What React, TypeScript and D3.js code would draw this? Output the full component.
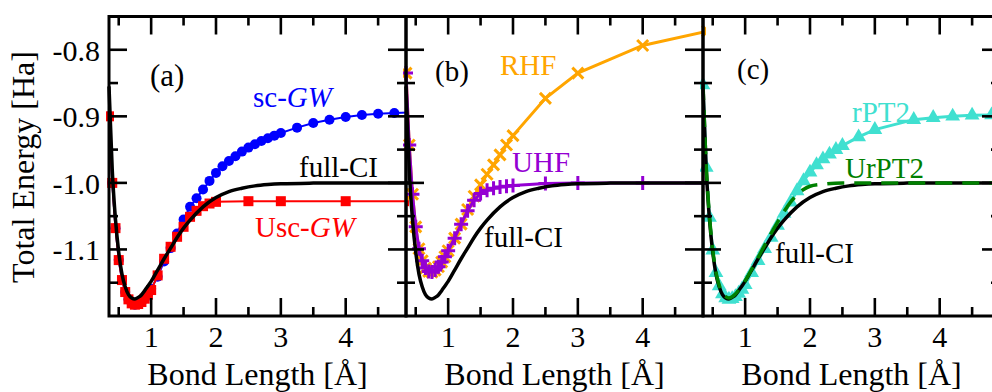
import React from "react";
import * as d3 from "d3";

// ---------------- data (bond length in Å, total energy in Ha) ----------------
const fciR = [0.35, 0.4, 0.45, 0.5, 0.55, 0.6, 0.65, 0.7, 0.75, 0.8, 0.85, 0.9, 0.95, 1.0, 1.1, 1.2, 1.3, 1.4, 1.5, 1.6, 1.8, 2.0, 2.2, 2.4, 2.6, 2.8, 3.0, 3.5, 4.0, 5.0];
const fciE = [-0.855, -0.98, -1.055, -1.104, -1.137, -1.156, -1.168, -1.173, -1.1745, -1.172, -1.1684, -1.162, -1.155, -1.148, -1.131, -1.114, -1.098, -1.082, -1.068, -1.056, -1.036, -1.022, -1.013, -1.008, -1.0045, -1.0025, -1.0013, -1.0003, -1.0, -1.0];

const scGwR = [0.35, 0.4, 0.45, 0.5, 0.55, 0.6, 0.65, 0.7, 0.75, 0.8, 0.85, 0.9, 0.95, 1.0, 1.1, 1.2, 1.3, 1.4, 1.5, 1.6, 1.7, 1.8, 1.9, 2.0, 2.1, 2.2, 2.3, 2.4, 2.5, 2.6, 2.7, 2.8, 2.9, 3.0, 3.25, 3.5, 3.75, 4.0, 4.25, 4.5, 4.75, 5.0];
const scGwE = [-0.9, -1.0, -1.068, -1.116, -1.146, -1.164, -1.175, -1.181, -1.183, -1.182, -1.179, -1.174, -1.167, -1.159, -1.141, -1.118, -1.098, -1.076, -1.055, -1.036, -1.023, -1.01, -0.997, -0.985, -0.975, -0.967, -0.96, -0.953, -0.947, -0.942, -0.937, -0.933, -0.929, -0.925, -0.917, -0.91, -0.905, -0.901, -0.898, -0.896, -0.895, -0.894];

const uscGwR = [0.35, 0.4, 0.45, 0.5, 0.55, 0.6, 0.65, 0.7, 0.75, 0.8, 0.85, 0.9, 0.95, 1.0, 1.1, 1.2, 1.3, 1.4, 1.5, 1.6, 1.7, 1.8, 1.9, 2.0, 2.5, 3.0, 4.0, 5.0];
const uscGwE = [-0.9, -1.0, -1.068, -1.116, -1.146, -1.164, -1.175, -1.181, -1.183, -1.182, -1.179, -1.174, -1.168, -1.161, -1.139, -1.114, -1.096, -1.081, -1.066, -1.051, -1.042, -1.035, -1.031, -1.0285, -1.0275, -1.0275, -1.0275, -1.0275];

const hfR = [0.35, 0.4, 0.45, 0.5, 0.55, 0.6, 0.65, 0.7, 0.75, 0.8, 0.85, 0.9, 0.95, 1.0, 1.1, 1.2, 1.3, 1.4, 1.5, 1.6, 1.7, 1.8, 1.9, 2.0, 2.5, 3.0, 4.0, 5.0];
const rhfE = [-0.835, -0.943, -1.017, -1.066, -1.099, -1.117, -1.128, -1.133, -1.134, -1.131, -1.126, -1.119, -1.111, -1.102, -1.083, -1.062, -1.04, -1.02, -1.003, -0.987, -0.973, -0.958, -0.943, -0.929, -0.873, -0.835, -0.7935, -0.772];
const uhfE = [-0.835, -0.943, -1.017, -1.066, -1.099, -1.117, -1.128, -1.133, -1.134, -1.131, -1.126, -1.119, -1.111, -1.102, -1.083, -1.062, -1.042, -1.026, -1.016, -1.011, -1.008, -1.006, -1.005, -1.004, -1.001, -1.0, -1.0, -1.0];

const rpt2R = [0.35, 0.4, 0.45, 0.5, 0.55, 0.6, 0.65, 0.7, 0.75, 0.8, 0.85, 0.9, 0.95, 1.0, 1.1, 1.2, 1.3, 1.4, 1.5, 1.6, 1.7, 1.8, 1.9, 2.0, 2.1, 2.2, 2.3, 2.4, 2.5, 2.75, 3.0, 3.6, 3.9, 4.2, 4.5, 4.8];
const rpt2E = [-0.853, -0.977, -1.052, -1.101, -1.135, -1.155, -1.167, -1.173, -1.175, -1.174, -1.171, -1.166, -1.16, -1.153, -1.135, -1.117, -1.099, -1.082, -1.064, -1.046, -1.029, -1.012, -0.997, -0.984, -0.973, -0.964, -0.957, -0.95, -0.944, -0.931, -0.92, -0.905, -0.902, -0.9, -0.8985, -0.898];

const urpt2R = [0.35, 0.4, 0.45, 0.5, 0.55, 0.6, 0.65, 0.7, 0.75, 0.8, 0.85, 0.9, 1.0, 1.1, 1.2, 1.3, 1.4, 1.5, 1.6, 1.7, 1.8, 1.9, 2.0, 2.2, 2.5, 3.0, 4.0, 5.0];
const urpt2E = [-0.85, -0.975, -1.05, -1.1, -1.134, -1.154, -1.166, -1.171, -1.173, -1.171, -1.167, -1.161, -1.147, -1.13, -1.112, -1.094, -1.076, -1.059, -1.043, -1.029, -1.018, -1.01, -1.005, -1.002, -1.0, -1.0, -1.0, -1.0];

const xMajor = [1, 2, 3, 4];
const xMinor = [0.5, 1.5, 2.5, 3.5, 4.5];
const yMajor = [-1.1, -1.0, -0.9, -0.8];
const yMinor = [-1.15, -1.05, -0.95, -0.85];
const yTickLabels = ["-1.1", "-1.0", "-0.9", "-0.8"];
const xTickLabels = ["1", "2", "3", "4"];

// ---------------- layout ----------------
const W = 992;
const H = 392;
const PANEL_LEFT = [109, 406, 703];
const PANEL_W = 297;
const PLOT_TOP = 16.5;
const PLOT_BOTTOM = 316;
const X_DOMAIN: [number, number] = [0.35, 4.93];
const Y_DOMAIN: [number, number] = [-1.2, -0.75];
const FONT = "'Liberation Serif', 'Times New Roman', Times, serif";

const BLUE = "#0000ff";
const RED = "#ff0000";
const ORANGE = "#ffa500";
const PURPLE = "#9400d3";
const TURQ = "#40e0d0";
const GREEN = "#008000";

type P = [number, number];
const zip = (r: number[], e: number[]): P[] => r.map((v, i) => [v, e[i]]);

export default function App() {
  const y = d3.scaleLinear().domain(Y_DOMAIN).range([PLOT_BOTTOM, PLOT_TOP]);
  const xs = PANEL_LEFT.map((l) => d3.scaleLinear().domain(X_DOMAIN).range([l, l + PANEL_W]));

  const fci = zip(fciR, fciE);
  const scgw = zip(scGwR, scGwE);
  const uscgw = zip(uscGwR, uscGwE);
  const rhf = zip(hfR, rhfE);
  const uhf = zip(hfR, uhfE);
  const rpt2 = zip(rpt2R, rpt2E);
  const urpt2 = zip(urpt2R, urpt2E);

  const lineOf = (x: d3.ScaleLinear<number, number>, curve: d3.CurveFactory = d3.curveLinear) =>
    d3
      .line<P>()
      .x((d) => x(d[0]))
      .y((d) => y(d[1]))
      .curve(curve);

  const tri = d3.symbol().type(d3.symbolTriangle).size(95)() as string;

  const frame = (i: number) => {
    const x = xs[i];
    const l = PANEL_LEFT[i];
    const r = l + PANEL_W;
    const els: React.ReactNode[] = [];
    const tk = (key: string, x1: number, y1: number, x2: number, y2: number) =>
      els.push(<line key={key} x1={x1} y1={y1} x2={x2} y2={y2} stroke="#000" strokeWidth={2.6} />);
    xMajor.forEach((v) => {
      tk(`xb${v}`, x(v), PLOT_BOTTOM, x(v), PLOT_BOTTOM - 18);
      tk(`xt${v}`, x(v), PLOT_TOP, x(v), PLOT_TOP + 18);
    });
    xMinor.forEach((v) => {
      tk(`xbm${v}`, x(v), PLOT_BOTTOM, x(v), PLOT_BOTTOM - 9);
      tk(`xtm${v}`, x(v), PLOT_TOP, x(v), PLOT_TOP + 9);
    });
    yMajor.forEach((v) => {
      tk(`yl${v}`, l, y(v), l + 18, y(v));
      tk(`yr${v}`, r, y(v), r - 18, y(v));
    });
    yMinor.forEach((v) => {
      tk(`ylm${v}`, l, y(v), l + 9, y(v));
      tk(`yrm${v}`, r, y(v), r - 9, y(v));
    });
    els.push(
      <rect key="frame" x={l} y={PLOT_TOP} width={PANEL_W} height={PLOT_BOTTOM - PLOT_TOP} fill="none" stroke="#000" strokeWidth={3} />
    );
    xMajor.forEach((v, j) =>
      els.push(
        <text key={`xl${v}`} x={x(v)} y={347} textAnchor="middle" fontSize={30} fontFamily={FONT}>
          {xTickLabels[j]}
        </text>
      )
    );
    els.push(
      <text key="xt" x={(l + r) / 2} y={385} textAnchor="middle" fontSize={32} fontFamily={FONT}>
        Bond Length [Å]
      </text>
    );
    return els;
  };

  const clipRect = (i: number) => (
    <clipPath id={`clip${i}`} key={`c${i}`}>
      <rect x={PANEL_LEFT[i] - 3} y={PLOT_TOP - 3} width={PANEL_W + 6} height={PLOT_BOTTOM - PLOT_TOP + 6} />
    </clipPath>
  );

  const xa = xs[0], xb = xs[1], xc = xs[2];

  return (
    <svg width={W} height={H} style={{ position: "absolute", left: 0, top: 0, background: "#fff" }}>
      <defs>{[0, 1, 2].map(clipRect)}</defs>

      {/* panel (a) */}
      <g clipPath="url(#clip0)">
        <path d={lineOf(xa)(scgw) as string} fill="none" stroke={BLUE} strokeWidth={2} />
        {scgw.map((d, k) => (
          <circle key={`b${k}`} cx={xa(d[0])} cy={y(d[1])} r={5} fill={BLUE} />
        ))}
        <path d={lineOf(xa)(uscgw) as string} fill="none" stroke={RED} strokeWidth={2} />
        {uscgw.map((d, k) => (
          <rect key={`r${k}`} x={xa(d[0]) - 5} y={y(d[1]) - 5} width={10} height={10} fill={RED} />
        ))}
        <path d={lineOf(xa, d3.curveMonotoneX)(fci) as string} fill="none" stroke="#000" strokeWidth={3.5} />
      </g>

      {/* panel (b) */}
      <g clipPath="url(#clip1)">
        <path d={lineOf(xb)(rhf) as string} fill="none" stroke={ORANGE} strokeWidth={3} />
        {rhf.map((d, k) => {
          const cx = xb(d[0]), cy = y(d[1]), s = 5.5;
          return (
            <path key={`o${k}`} d={`M${cx - s},${cy - s}L${cx + s},${cy + s}M${cx - s},${cy + s}L${cx + s},${cy - s}`} stroke={ORANGE} strokeWidth={3} />
          );
        })}
        <path d={lineOf(xb)(uhf) as string} fill="none" stroke={PURPLE} strokeWidth={3} />
        {uhf.map((d, k) => {
          const cx = xb(d[0]), cy = y(d[1]), s = 7;
          return (
            <path key={`p${k}`} d={`M${cx - s},${cy}L${cx + s},${cy}M${cx},${cy - s}L${cx},${cy + s}`} stroke={PURPLE} strokeWidth={3} />
          );
        })}
        <path d={lineOf(xb, d3.curveMonotoneX)(fci) as string} fill="none" stroke="#000" strokeWidth={3.5} />
      </g>

      {/* panel (c) */}
      <g clipPath="url(#clip2)">
        <path d={lineOf(xc)(rpt2) as string} fill="none" stroke={TURQ} strokeWidth={3} />
        {rpt2.map((d, k) => (
          <path key={`t${k}`} d={tri} transform={`translate(${xc(d[0])},${y(d[1])})`} fill={TURQ} />
        ))}
        <path d={lineOf(xc, d3.curveMonotoneX)(fci) as string} fill="none" stroke="#000" strokeWidth={3.5} />
        <path d={lineOf(xc, d3.curveMonotoneX)(urpt2) as string} fill="none" stroke={GREEN} strokeWidth={3.5} strokeDasharray="17,10" />
      </g>

      {[0, 1, 2].map((i) => (
        <g key={`f${i}`}>{frame(i)}</g>
      ))}

      {/* y axis */}
      {yMajor.map((v, j) => (
        <text key={`yl${v}`} x={100} y={y(v) + 11} textAnchor="end" fontSize={30} fontFamily={FONT}>
          {yTickLabels[j]}
        </text>
      ))}
      <text transform="translate(34,167) rotate(-90)" textAnchor="middle" fontSize={32} fontFamily={FONT}>
        Total Energy [Ha]
      </text>

      {/* annotations */}
      <g fontFamily={FONT} fontSize={29}>
        <text x={150} y={86} fontSize={31}>(a)</text>
        <text x={253} y={107} fill={BLUE}>
          sc-<tspan fontStyle="italic">GW</tspan>
        </text>
        <text x={299} y={177}>full-CI</text>
        <text x={255} y={237} fill={RED}>
          Usc-<tspan fontStyle="italic">GW</tspan>
        </text>

        <text x={435} y={81}>(b)</text>
        <text x={500} y={75} fill={ORANGE}>RHF</text>
        <text x={512} y={172} fill={PURPLE}>UHF</text>
        <text x={484} y={247}>full-CI</text>

        <text x={737} y={79}>(c)</text>
        <text x={852} y={122} fill={TURQ}>rPT2</text>
        <text x={845} y={178} fill={GREEN}>UrPT2</text>
        <text x={775} y={263}>full-CI</text>
      </g>
    </svg>
  );
}
